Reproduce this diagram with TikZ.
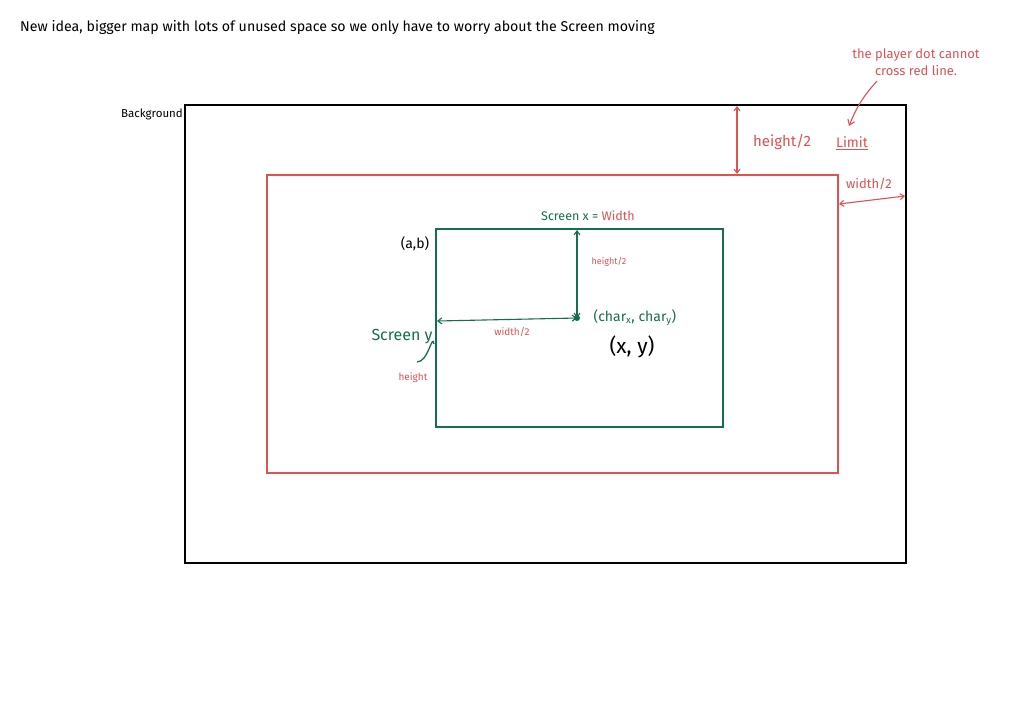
\documentclass[tikz,border=0pt]{standalone}
\usepackage{fontspec}
\setmainfont{Fira Sans}
\usetikzlibrary{arrows.meta}
\definecolor{penred}{RGB}{222,82,82}
\definecolor{pengreen}{RGB}{22,110,82}
\tikzset{
  txt/.style={inner sep=0pt, font=#1},
  redline/.style={draw=penred, line width=1.4pt},
  greenline/.style={draw=pengreen, line width=1.4pt},
  blackline/.style={draw=black, line width=1.5pt},
  dimarrow/.style={{Straight Barb[length=4pt,width=6pt]}-{Straight Barb[length=4pt,width=6pt]}, line width=1.1pt},
}
\begin{document}
\begin{tikzpicture}[x=1pt,y=-1pt]
\useasboundingbox[fill=white] (0,0) rectangle (1024,724);
% rectangles
\coordinate (bgA) at (185,105); \coordinate (bgB) at (906,563);
\coordinate (lmA) at (267,175); \coordinate (lmB) at (838,473);
\coordinate (scA) at (436,229); \coordinate (scB) at (723,427);
\draw[blackline] (bgA) rectangle (bgB);
\draw[redline] (lmA) rectangle (lmB);
\draw[greenline] (scA) rectangle (scB);
% top text
\node[txt={\fontsize{14.2}{16}\selectfont}, anchor=west] (title) at (20,27) {New idea, bigger map with lots of unused space so we only have to worry about the Screen moving};
\node[txt={\fontsize{11.5}{13}\selectfont}, anchor=south east] (bglabel) at (183,120) {Background};
% red annotations
\node[txt={\fontsize{13}{17}\selectfont}, text=penred, align=center] (note) at (916,62) {the player dot cannot\\cross red line.};
\node[txt={\fontsize{14}{16}\selectfont}, text=penred] (limit) at (852,143) {\underline{Limit}};
\coordinate (noteArr) at (877,81);
\coordinate (limitArr) at (849,126);
\draw[penred, line width=1.1pt, -{Straight Barb[length=5pt,width=7pt]}] (noteArr) to[bend right=10] (limitArr);
\coordinate (h2top) at (737,106); \coordinate (h2bot) at (737,174);
\draw[penred, dimarrow] (h2top) -- (h2bot);
\node[txt={\fontsize{15}{17}\selectfont}, text=penred] (h2lab) at (782,142) {height/2};
\coordinate (w2left) at (839,204); \coordinate (w2right) at (905,196);
\draw[penred, dimarrow] (w2left) -- (w2right);
\node[txt={\fontsize{13}{15}\selectfont}, text=penred] (w2lab) at (869,184) {width/2};
% green screen annotations
\node[txt={\fontsize{12.5}{14}\selectfont}, text=pengreen] (scx) at (588,216) {Screen x = \textcolor{penred}{Width}};
\node[txt={\fontsize{14}{16}\selectfont}] (ab) at (415,244) {(a,b)};
\coordinate (vtop) at (577,230); \coordinate (dot) at (577,318); \coordinate (hleft) at (437,321);
\draw[pengreen, dimarrow] (vtop) -- (dot);
\draw[pengreen, dimarrow] (hleft) -- (dot);
\fill[pengreen] (dot) circle (3pt);
\node[txt={\fontsize{9}{11}\selectfont}, text=penred] (vh2) at (609,262) {height/2};
\node[txt={\fontsize{10}{12}\selectfont}, text=penred] (hw2) at (512,332) {width/2};
\node[txt={\fontsize{14}{16}\selectfont}, text=pengreen] (charxy) at (635,318) {(char\textsubscript{x}, char\textsubscript{y})};
\node[txt={\fontsize{21}{24}\selectfont}] (xy) at (632,347) {(x, y)};
\node[txt={\fontsize{16}{18}\selectfont}, text=pengreen] (scy) at (402,337) {Screen y};
\coordinate (ytail) at (434,344); \coordinate (yend) at (417,362);
\draw[pengreen, line width=1.3pt] (ytail) to[out=100, in=0, looseness=1.2] (yend);
\node[txt={\fontsize{10}{12}\selectfont}, text=penred] (hlab) at (413,378) {height};
\end{tikzpicture}
\end{document}
